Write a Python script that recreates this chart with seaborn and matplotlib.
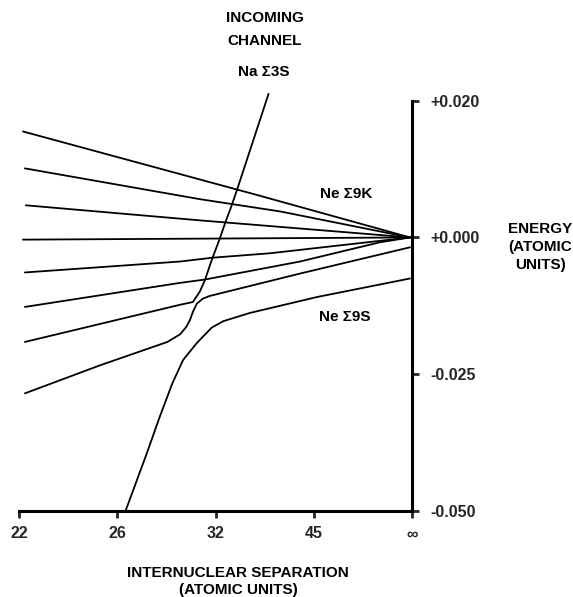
import numpy as np
import pandas as pd
import matplotlib
matplotlib.use("Agg")
import matplotlib.pyplot as plt
import seaborn as sns

sns.set_style("white")
plt.rcParams['font.family'] = ['Liberation Sans', 'DejaVu Sans']

# x positions are in tick-slot units (0..4 -> 22, 26, 32, 45, inf)
x_tick_labels = ["22", "26", "32", "45", "\u221e"]
y_tick_values = [-0.050, -0.025, 0.000, 0.020]
y_tick_labels = ["-0.050", "-0.025", "+0.000", "+0.020"]

# Fan of Ne states (lines converging to 0 at infinity)
l1_x = [0.04, 2.22, 2.40, 3.98]
l1_e = [0.0155, 0.0070, 0.0063, 0.0]
l2_x = [0.06, 1.84, 2.66, 3.98]
l2_e = [0.0101, 0.0056, 0.0038, 0.0]
l3_x = [0.07, 1.84, 3.98]
l3_e = [0.0047, 0.0025, 0.0]
l4_x = [0.04, 3.98]
l4_e = [-0.0004, 0.0]
l5_x = [0.06, 1.64, 1.97, 2.55, 3.98]
l5_e = [-0.0064, -0.0044, -0.0037, -0.0029, 0.0]
l6_x = [0.06, 1.64, 1.89, 2.86, 3.67, 3.98]
l6_e = [-0.0127, -0.0083, -0.0077, -0.0044, -0.0009, 0.0]

# Incoming channel (steep) joined to lower states via avoided crossings
a_x = [0.06, 1.64, 1.77, 1.84, 1.89, 1.97, 2.04, 2.10, 2.16, 2.22, 2.54]
a_e = [-0.0191, -0.0123, -0.0118, -0.0099, -0.0079, -0.0037, -0.0004,
       0.0022, 0.0045, 0.0070, 0.0210]
b_x = [0.06, 0.82, 1.51, 1.64, 1.70, 1.74, 1.77, 1.81, 1.87, 1.94, 2.86, 3.98]
b_e = [-0.0285, -0.0234, -0.0191, -0.0177, -0.0164, -0.0151, -0.0136,
       -0.0121, -0.0112, -0.0107, -0.0066, -0.0018]
c_x = [1.08, 1.30, 1.43, 1.56, 1.67, 1.81, 1.89, 1.96, 2.08, 2.35, 3.03, 3.98]
c_e = [-0.0502, -0.0395, -0.0329, -0.0267, -0.0224, -0.0193, -0.0178,
       -0.0165, -0.0153, -0.0138, -0.0109, -0.0075]

curves = {"L1": (l1_x, l1_e), "L2": (l2_x, l2_e), "L3": (l3_x, l3_e),
          "L4": (l4_x, l4_e), "L5": (l5_x, l5_e), "L6": (l6_x, l6_e),
          "A": (a_x, a_e), "B": (b_x, b_e), "C": (c_x, c_e)}
rows = []
for name, (xs, es) in curves.items():
    for i, (xv, ev) in enumerate(zip(xs, es)):
        rows.append({"curve": name, "order": i, "x": xv, "E": ev})
df = pd.DataFrame(rows)

W, H = 573, 597
fig = plt.figure(figsize=(W / 100, H / 100), dpi=100)
left, right, bottom_px, top_px = 19, 412, 511, 87
ax = fig.add_axes([left / W, 1 - bottom_px / H, (right - left) / W,
                   (bottom_px - top_px) / H])


def fwd(e):
    e = np.asarray(e, dtype=float)
    return np.where(e >= 0, e / 0.020, e / 0.025)


def inv(u):
    u = np.asarray(u, dtype=float)
    return np.where(u >= 0, u * 0.020, u * 0.025)


ax.set_yscale("function", functions=(fwd, inv))

sns.lineplot(data=df, x="x", y="E", units="curve", estimator=None,
             sort=False, color="black", lw=1.3, ax=ax, legend=False)

ax.set_xlim(0, 4)
ax.set_ylim(-0.050, 0.022)

for s in ["left", "top"]:
    ax.spines[s].set_visible(False)
for s in ["right", "bottom"]:
    ax.spines[s].set_visible(True)
    ax.spines[s].set_linewidth(2.2)
    ax.spines[s].set_color("black")
ax.spines["right"].set_bounds(-0.050, 0.020)
ax.spines["bottom"].set_bounds(0, 4)

ax.set_xticks(range(5))
ax.set_xticklabels(x_tick_labels)
ax.set_yticks(y_tick_values)
ax.set_yticklabels(y_tick_labels)
ax.yaxis.tick_right()
ax.yaxis.set_label_position("right")
ax.yaxis.set_minor_locator(matplotlib.ticker.NullLocator())
ax.tick_params(axis="y", which="both", right=True, left=False, direction="out",
               length=5, width=2, pad=8, labelsize=11.5)
ax.tick_params(axis="x", which="both", bottom=True, direction="out",
               length=5, width=2, pad=6, labelsize=11.5)
for lab in ax.get_xticklabels() + ax.get_yticklabels():
    lab.set_fontweight("bold")
ax.set_xlabel("")
ax.set_ylabel("")
ax.grid(False)

txt = dict(ha="center", va="center", fontsize=11, fontweight="bold",
           color="black")
fig.text(265 / W, 1 - 18 / H, "INCOMING", **txt)
fig.text(265 / W, 1 - 41 / H, "CHANNEL", **txt)
fig.text(264 / W, 1 - 72 / H, "Na \u03a33S", **txt)
fig.text(346 / W, 1 - 194 / H, "Ne \u03a39K", **txt)
fig.text(345 / W, 1 - 317 / H, "Ne \u03a39S", **txt)
fig.text(540 / W, 1 - 229 / H, "ENERGY", **txt)
fig.text(540 / W, 1 - 247 / H, "(ATOMIC", **txt)
fig.text(540 / W, 1 - 265 / H, "UNITS)", **txt)
fig.text(238 / W, 1 - 573 / H, "INTERNUCLEAR SEPARATION", **txt)
fig.text(238 / W, 1 - 590 / H, "(ATOMIC UNITS)", **txt)

fig.savefig("out.png", dpi=100, facecolor="white")
